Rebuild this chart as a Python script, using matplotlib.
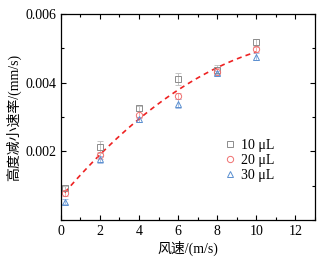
import numpy as np
import matplotlib
matplotlib.use("Agg")
import matplotlib.pyplot as plt
from matplotlib.ticker import MultipleLocator
from matplotlib.lines import Line2D

plt.rcParams['font.family'] = ['Liberation Serif', 'Noto Sans CJK SC']
plt.rcParams['mathtext.fontset'] = 'stix'

wind = [0.2, 2, 4, 6, 8, 10]
v10 = [0.00092, 0.00213, 0.00325, 0.00410, 0.00438, 0.00517]
v20 = [0.00078, 0.00188, 0.00307, 0.00361, 0.00432, 0.00497]
v30 = [0.00053, 0.00177, 0.00293, 0.00339, 0.00429, 0.00476]
err10 = [0.00008, 0.00017, 0.00008, 0.00017, 0.00012, 0.00011]
err20 = [0.00008, 0.00010, 0.00010, 0.00010, 0.00010, 0.00008]
err30 = [0.00008, 0.00010, 0.00007, 0.00012, 0.00006, 0.00010]
labels = ['10 μL', '20 μL', '30 μL']

fig = plt.figure(figsize=(3.29, 2.59), dpi=100)
ax = fig.add_axes([0.185, 0.151, 0.772, 0.795])

styles = [('s', '#8c8c8c', '#c4c4c4'), ('o', '#f07070', '#f4b0b0'), ('^', '#5b8fd0', '#a8c2e6')]
handles = []
for vals, errs, (m, c, ec), lab in zip([v10, v20, v30], [err10, err20, err30], styles, labels):
    ax.errorbar(wind, vals, yerr=errs, fmt=m, mfc='none', mec=c, ecolor=ec,
                ms=4.5, mew=0.7, elinewidth=0.7, capsize=2, capthick=0.7)
    handles.append(Line2D([], [], ls='none', marker=m, mfc='none', mec=c, ms=4.5, mew=0.7, label=lab))

allx = np.array(wind * 3)
ally = np.array(v10 + v20 + v30)
coef = np.polyfit(allx, ally, 2)
xf = np.linspace(wind[0], wind[-1], 100)
ax.plot(xf, np.polyval(coef, xf), '--', color='#ee2222', lw=1.2, dashes=(3, 2.5))

ax.set_xlim(0, 13)
ax.set_ylim(0, 0.006)
ax.xaxis.set_major_locator(MultipleLocator(2))
ax.xaxis.set_minor_locator(MultipleLocator(1))
ax.yaxis.set_minor_locator(MultipleLocator(0.001))
ax.set_yticks([0.002, 0.004, 0.006])
ax.set_yticklabels(['0.002', '0.004', '0.006'])
ax.tick_params(which='both', direction='in', top=True, right=True, labelsize=10, width=0.8)
ax.tick_params(which='major', length=3.5)
ax.tick_params(which='minor', length=2)
for s in ax.spines.values():
    s.set_linewidth(0.9)

ax.set_xlabel('风速/(m/s)', fontsize=10, labelpad=2)
ax.set_ylabel('高度减小速率/(mm/s)', fontsize=10, labelpad=3)

ax.legend(handles=handles, loc='upper left', bbox_to_anchor=(0.615, 0.42), frameon=False, fontsize=10,
          handletextpad=0.3, labelspacing=0.15, handlelength=1.0, borderaxespad=0)

fig.savefig('out.png', dpi=100)
